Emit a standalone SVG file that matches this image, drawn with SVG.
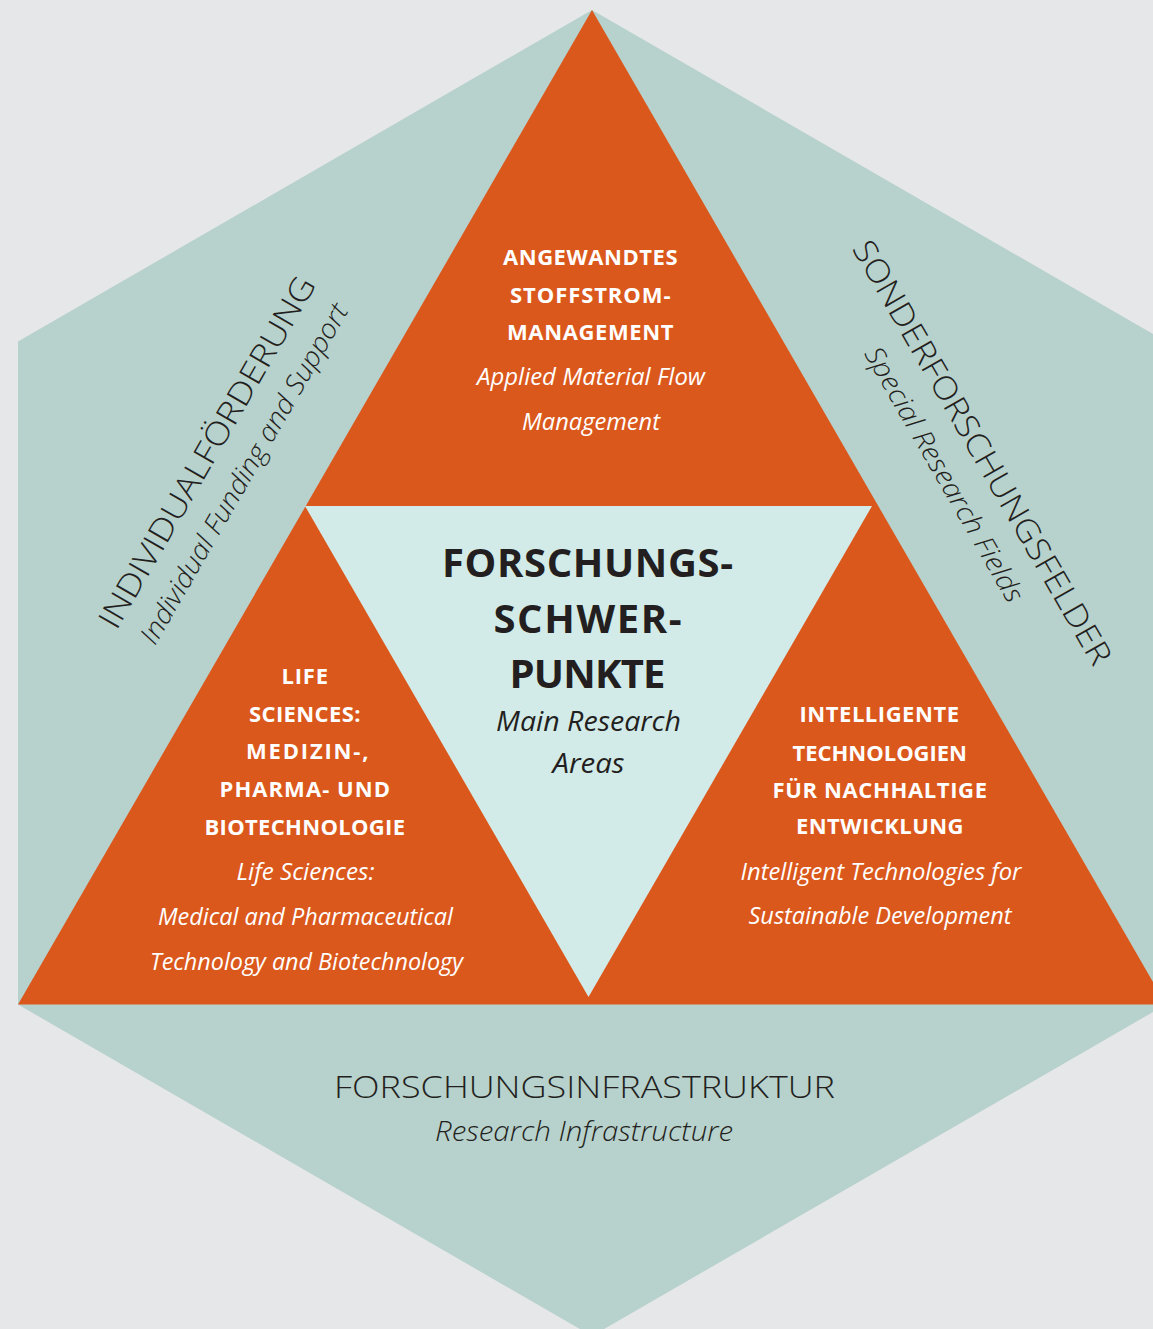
<svg xmlns="http://www.w3.org/2000/svg" width="1153" height="1329" viewBox="0 0 1153 1329">
<style>
text{font-family:"Open Sans","Liberation Sans",sans-serif;text-anchor:middle}
.capw{fill:#fff;font-weight:700;font-size:22px;letter-spacing:1.5px}
.itw{fill:#fff;font-style:italic;font-size:23px}
.capd{fill:#231f20;font-weight:700;font-size:40px;letter-spacing:2px}
.itd{fill:#231f20;font-style:italic;font-size:28px}
.side{fill:#231f20;font-weight:300;font-size:32px}
.sideit{fill:#231f20;font-style:italic;font-weight:300;font-size:27px}
</style>
<rect id="background" x="0" y="0" width="1153" height="1329" fill="#e6e7e8"/>
<g id="hexagon">
<polygon points="592,10 1166,341.5 1166,1004.5 592,1336 18,1004.5 18,341.5" fill="#b7d1cc"/>
</g>
<g id="orange-triangle">
<polygon points="592,10 1166,1004.5 18,1004.5" fill="#db581c"/>
</g>
<g id="center-triangle">
<polygon points="305,506 872,506 588.5,997" fill="#d3ebe8"/>
</g>
<g id="connectors"></g>
<g id="node-top">
<text class="capw" x="591" y="265" textLength="176" lengthAdjust="spacing">ANGEWANDTES</text>
<text class="capw" x="591" y="303" textLength="162" lengthAdjust="spacing">STOFFSTROM-</text>
<text class="capw" x="591" y="340" textLength="168" lengthAdjust="spacing">MANAGEMENT</text>
<text class="itw" x="591" y="385" textLength="228" lengthAdjust="spacingAndGlyphs">Applied Material Flow</text>
<text class="itw" x="591" y="430" textLength="138" lengthAdjust="spacingAndGlyphs">Management</text>
</g>
<g id="node-center">
<text class="capd" x="588.5" y="577" textLength="293" lengthAdjust="spacing">FORSCHUNGS-</text>
<text class="capd" x="588.5" y="633" textLength="190" lengthAdjust="spacing">SCHWER-</text>
<text class="capd" x="588.5" y="688" textLength="158" lengthAdjust="spacing">PUNKTE</text>
<text class="itd" x="588.5" y="731" textLength="185" lengthAdjust="spacingAndGlyphs">Main Research</text>
<text class="itd" x="588.5" y="773" textLength="72" lengthAdjust="spacingAndGlyphs">Areas</text>
</g>
<g id="node-left">
<text class="capw" x="305.5" y="684" textLength="48" lengthAdjust="spacing">LIFE</text>
<text class="capw" x="305.5" y="721.5" textLength="113" lengthAdjust="spacing">SCIENCES:</text>
<text class="capw" x="308" y="759" textLength="124" lengthAdjust="spacing">MEDIZIN-,</text>
<text class="capw" x="305.5" y="796.5" textLength="172" lengthAdjust="spacing">PHARMA- UND</text>
<text class="capw" x="305.5" y="835" textLength="202" lengthAdjust="spacing">BIOTECHNOLOGIE</text>
<text class="itw" x="305.5" y="880" textLength="138" lengthAdjust="spacingAndGlyphs">Life Sciences:</text>
<text class="itw" x="305.5" y="925" textLength="295" lengthAdjust="spacingAndGlyphs">Medical and Pharmaceutical</text>
<text class="itw" x="306.5" y="970" textLength="313" lengthAdjust="spacingAndGlyphs">Technology and Biotechnology</text>
</g>
<g id="node-right">
<text class="capw" x="880" y="722" textLength="161" lengthAdjust="spacing">INTELLIGENTE</text>
<text class="capw" x="880.5" y="760.5" textLength="176" lengthAdjust="spacing">TECHNOLOGIEN</text>
<text class="capw" x="880.5" y="797.5" textLength="216" lengthAdjust="spacing">FÜR NACHHALTIGE</text>
<text class="capw" x="880.5" y="834" textLength="169" lengthAdjust="spacing">ENTWICKLUNG</text>
<text class="itw" x="881" y="880" textLength="281" lengthAdjust="spacingAndGlyphs">Intelligent Technologies for</text>
<text class="itw" x="880" y="924" textLength="263" lengthAdjust="spacingAndGlyphs">Sustainable Development</text>
</g>
<g id="node-individual" transform="translate(216.6,457.7) rotate(-60)">
<text class="side" x="0" y="0" textLength="400" lengthAdjust="spacingAndGlyphs">INDIVIDUALFÖRDERUNG</text>
<text class="sideit" x="0" y="41" textLength="388" lengthAdjust="spacingAndGlyphs">Individual Funding and Support</text>
</g>
<g id="node-sonder" transform="translate(972.6,458) rotate(60)">
<text class="side" x="0" y="0" textLength="484" lengthAdjust="spacingAndGlyphs">SONDERFORSCHUNGSFELDER</text>
<text class="sideit" x="0" y="42" textLength="290" lengthAdjust="spacingAndGlyphs">Special Research Fields</text>
</g>
<g id="node-infrastructure">
<text class="side" x="584.5" y="1098" textLength="501" lengthAdjust="spacingAndGlyphs">FORSCHUNGSINFRASTRUKTUR</text>
<text class="sideit" x="584" y="1141" textLength="298" lengthAdjust="spacingAndGlyphs">Research Infrastructure</text>
</g>
</svg>
